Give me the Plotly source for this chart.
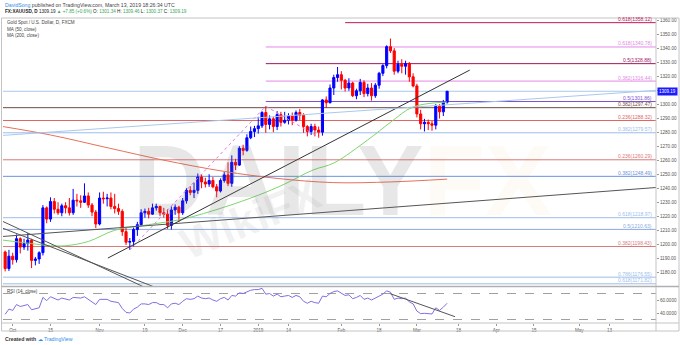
import plotly.graph_objects as go
import pandas as pd

W, H = 680, 345
FONT = "Liberation Sans, Arial, sans-serif"

# ---------------- data ----------------
dates = [d.strftime("%Y-%m-%d") for d in pd.bdate_range("2018-09-27", "2019-03-13")
         if d.strftime("%Y-%m-%d") not in ("2018-12-25", "2019-01-01")]
bar_index = list(range(-2, len(dates) - 2))   # 0 = 2018-10-01

opens = [
    1194.5, 1182.7,
    1191.5, 1189.0, 1204.0, 1198.0, 1200.5, 1203.0, 1188.5, 1189.5, 1194.0, 1226.0,
    1218.0, 1230.5, 1225.0, 1222.5, 1227.5, 1226.0, 1222.5, 1231.5, 1231.0, 1230.0,
    1234.5, 1228.0, 1223.0,
    1214.5, 1233.0, 1232.5, 1233.0, 1227.0, 1225.5, 1223.5, 1209.0, 1201.5, 1202.0,
    1210.5, 1214.0, 1222.5, 1223.5, 1221.5, 1226.0, 1227.0, 1222.5, 1221.5, 1213.5,
    1224.5, 1226.5,
    1222.5, 1231.0, 1238.5, 1237.0, 1238.5, 1248.0, 1244.5, 1243.0, 1245.5, 1241.0,
    1238.0, 1245.5, 1249.5, 1243.5, 1258.5, 1256.5, 1268.5, 1267.0, 1276.0, 1280.5,
    1282.5, 1284.5, 1294.0, 1285.5, 1289.5, 1284.0, 1292.5, 1287.0, 1288.5, 1291.5,
    1288.5, 1294.0, 1292.0, 1284.0, 1280.5, 1284.0, 1281.5, 1280.0, 1303.0, 1301.0,
    1311.5, 1319.0,
    1321.0, 1317.0, 1311.5, 1315.0, 1306.0, 1309.5, 1315.5, 1307.5, 1311.5, 1306.0,
    1313.5, 1322.0, 1327.5, 1341.0, 1338.0, 1323.5, 1328.5, 1327.0, 1329.0, 1319.5,
    1313.0, 1293.0, 1286.0, 1287.0, 1286.0, 1285.0, 1298.5, 1294.5, 1301.34,
]
highs = [
    1195.5, 1196.0,
    1194.0, 1207.0, 1205.0, 1204.0, 1208.0, 1204.0, 1191.0, 1195.0, 1228.0, 1227.0,
    1233.5, 1233.0, 1230.0, 1229.0, 1230.0, 1233.0, 1239.5, 1236.0, 1235.0, 1243.5,
    1237.0, 1229.5, 1224.5,
    1237.0, 1237.5, 1236.0, 1237.0, 1236.0, 1229.0, 1225.0, 1212.0, 1204.5, 1212.0,
    1216.0, 1225.0, 1225.5, 1226.0, 1229.0, 1229.0, 1227.5, 1226.0, 1225.0, 1227.0,
    1228.5, 1227.5,
    1233.0, 1240.0, 1241.5, 1244.0, 1250.5, 1250.0, 1247.5, 1250.0, 1248.0, 1243.0,
    1247.0, 1251.5, 1258.5, 1263.5, 1261.0, 1270.0, 1271.0, 1278.5, 1284.0, 1284.5,
    1291.0, 1295.0, 1298.5, 1292.0, 1291.0, 1295.0, 1294.5, 1294.5, 1293.5, 1294.0,
    1295.5, 1296.5, 1293.5, 1285.0, 1286.0, 1286.0, 1284.0, 1303.5, 1305.5, 1314.0,
    1321.0, 1326.5,
    1323.5, 1318.0, 1318.5, 1316.0, 1311.0, 1318.0, 1317.0, 1314.5, 1315.0, 1315.0,
    1323.0, 1328.5, 1342.0, 1346.8, 1340.0, 1331.0, 1332.0, 1331.0, 1330.0, 1322.0,
    1314.5, 1296.0, 1289.5, 1289.0, 1288.0, 1300.0, 1300.0, 1303.0, 1309.46,
]
lows = [
    1180.7, 1181.0,
    1185.5, 1187.0, 1193.5, 1196.0, 1195.5, 1183.0, 1185.0, 1186.0, 1192.0, 1215.0,
    1216.0, 1222.0, 1221.0, 1220.0, 1222.0, 1220.5, 1221.0, 1227.0, 1226.0, 1229.5,
    1226.0, 1220.0, 1211.5,
    1213.5, 1229.0, 1227.0, 1225.0, 1222.0, 1221.0, 1206.0, 1199.5, 1196.0, 1198.5,
    1206.0, 1213.0, 1219.0, 1218.5, 1221.0, 1224.0, 1220.0, 1219.0, 1211.0, 1210.5,
    1221.0, 1216.0,
    1221.0, 1229.0, 1235.0, 1233.0, 1236.0, 1240.0, 1240.5, 1241.0, 1240.0, 1233.5,
    1237.0, 1244.0, 1241.5, 1241.0, 1253.0, 1256.0, 1263.5, 1266.0, 1275.0, 1276.5,
    1279.0, 1283.0, 1279.5, 1282.0, 1280.0, 1281.5, 1284.0, 1286.0, 1285.5, 1285.0,
    1287.5, 1288.5, 1279.5, 1277.0, 1278.0, 1277.0, 1276.0, 1277.5, 1297.5, 1300.5,
    1306.5, 1316.0,
    1310.5, 1309.0, 1309.5, 1305.0, 1303.5, 1306.5, 1305.0, 1305.5, 1302.5, 1304.5,
    1311.0, 1320.0, 1325.5, 1336.5, 1321.0, 1322.0, 1322.0, 1321.0, 1316.0, 1312.0,
    1290.5, 1282.0, 1280.5, 1281.5, 1281.0, 1282.0, 1289.7, 1291.5, 1300.37,
]
closes = [
    1182.7, 1191.5,
    1189.0, 1204.0, 1198.0, 1200.5, 1203.0, 1188.5, 1189.5, 1194.0, 1226.0, 1218.0,
    1230.5, 1225.0, 1222.5, 1227.5, 1226.0, 1222.5, 1231.5, 1231.0, 1230.0, 1234.5,
    1228.0, 1223.0, 1214.5,
    1233.0, 1232.5, 1233.0, 1227.0, 1225.5, 1223.5, 1209.0, 1201.5, 1202.0, 1210.5,
    1214.0, 1222.5, 1223.5, 1221.5, 1226.0, 1227.0, 1222.5, 1221.5, 1213.5, 1224.5,
    1226.5, 1222.5,
    1231.0, 1238.5, 1237.0, 1238.5, 1248.0, 1244.5, 1243.0, 1245.5, 1241.0, 1238.0,
    1245.5, 1249.5, 1243.5, 1258.5, 1256.5, 1268.5, 1267.0, 1276.0, 1280.5, 1282.5,
    1284.5, 1294.0, 1285.5, 1289.5, 1284.0, 1292.5, 1287.0, 1288.5, 1291.5, 1288.5,
    1294.0, 1292.0, 1284.0, 1280.5, 1284.0, 1281.5, 1280.0, 1303.0, 1301.0, 1311.5,
    1319.0, 1321.0,
    1317.0, 1311.5, 1315.0, 1306.0, 1309.5, 1315.5, 1307.5, 1311.5, 1306.0, 1313.5,
    1322.0, 1327.5, 1341.0, 1338.0, 1323.5, 1328.5, 1327.0, 1329.0, 1319.5, 1313.0,
    1293.0, 1286.0, 1287.0, 1286.0, 1285.0, 1298.5, 1294.5, 1301.34, 1309.19,
]
rsi = [
    38, 46,
    44, 53, 50, 51, 53, 45, 46, 48, 64, 59, 65, 62, 60, 63, 62, 60, 64, 64, 63, 65, 61, 58, 53,
    61, 61, 61, 58, 57, 56, 47, 41, 40, 46, 49, 54, 54, 53, 56, 56, 53, 53, 48, 54, 55, 53,
    58, 62, 61, 62, 66, 63, 62, 63, 60, 58, 62, 64, 60, 67, 66, 71, 70, 73, 75, 76,
    76, 78, 69, 70, 66, 69, 65, 66, 67, 64, 67, 65, 58, 55, 58, 56, 55, 66, 65, 70, 73, 74,
    71, 67, 68, 62, 64, 67, 61, 63, 60, 63, 67, 69, 74, 72, 61, 63, 62, 63, 57, 54,
    43, 39, 39.5, 39, 38.5, 48, 44, 49, 55,
]

# moving averages (bar index, price)
ma50_idx = [-2.6, 5, 10, 14, 20, 27, 36, 45, 56, 65, 72, 79.5, 85, 94, 100, 106, 115]
ma50_val = [1203, 1200.5, 1199, 1199, 1202, 1210, 1214, 1218, 1226.5, 1235, 1243, 1253,
            1258, 1274.5, 1287, 1298, 1301.5]
ma200_idx = [-2.6, 10, 25.7, 40, 56, 70, 85, 100, 115]
ma200_val = [1284, 1278, 1268.5, 1260, 1252, 1247, 1244, 1244.5, 1246.5]

# fibonacci levels (ratio, price, colour, start bar)
fib_ratio = ["0.618", "0.618", "0.5", "0.382", "0.5", "0.382", "0.236", "0.382",
             "0.236", "0.382", "0.618", "0.5", "0.382", "0.786", "0.618"]
fib_price = [1358.12, 1340.78, 1328.88, 1316.44, 1301.86, 1297.47, 1288.32, 1279.57,
             1260.29, 1248.49, 1218.97, 1210.63, 1198.43, 1176.55, 1171.82]
fib_color = ["#c2185b", "#e389e6", "#a0155f", "#e389e6", "#7b52c9", "#6d4c41", "#e06666",
             "#9dbdea", "#d97a7a", "#6d93dc", "#9dbdea", "#88a9e3", "#d97a7a", "#9dbdea",
             "#9dbdea"]
fib_start = [88, 67, 67, 67, 67, -3, -3, -3, -3, -3, -3, -3, -3, -3, -3]

# trend lines (bar index, value)
trend_lines = [
    ([-2.57, 170.3], [1205.6, 1240.5], "#555555"),
    ([25.2, 121.0], [1190.2, 1324.3], "#333333"),
    ([-3.4, 36.0], [1217.3, 1168.0], "#555555"),
    ([-3.4, 39.0], [1212.3, 1168.0], "#555555"),
    ([-2.57, 170.3], [1277.7, 1309.8], "#a9c8ee"),
]
fib_path_idx = [31, 67, 81]
fib_path_val = [1196.0, 1298.5, 1276.5]
rsi_trend_idx = [99.9, 117.1]
rsi_trend_val = [69.8, 34.3]

tick_idx = [0, 10, 23, 35, 45, 55, 65, 73, 87, 97, 107, 118, 128, 138, 150, 158]
tick_txt = ["Oct", "15", "Nov", "19", "Dec", "17", "2019", "14", "Feb", "18", "Mar", "18",
            "Apr", "15", "May", "13"]
price_ticks = list(range(1180, 1361, 10))
last_price = 1309.19

# ---------------- layout helpers ----------------
def fx(px):
    return px / W

def fy(py):
    return 1 - py / H

X0, X1 = 3, 656
P_TOP, P_BOT = 18, 286
R_TOP, R_BOT = 287, 323
XR = [-2.57, 170.3]
YR = [1200 + (244.3 - P_BOT) / 1.4017, 1200 + (244.3 - P_TOP) / 1.4017]
RR = [60 - (R_BOT - 300) / 0.65, 60 + (300 - R_TOP) / 0.65]

fig = go.Figure()

fig.add_trace(go.Candlestick(
    x=bar_index, open=opens, high=highs, low=lows, close=closes, text=dates,
    increasing=dict(line=dict(color="#0000ff", width=1), fillcolor="#0000ff"),
    decreasing=dict(line=dict(color="#ff0000", width=1), fillcolor="#ff0000"),
    whiskerwidth=0, xaxis="x", yaxis="y", showlegend=False))

fig.add_trace(go.Scatter(x=ma50_idx, y=ma50_val, mode="lines",
                         line=dict(color="#7ed56f", width=1, shape="spline"),
                         xaxis="x", yaxis="y", showlegend=False))
fig.add_trace(go.Scatter(x=ma200_idx, y=ma200_val, mode="lines",
                         line=dict(color="#e8705a", width=1, shape="spline"),
                         xaxis="x", yaxis="y", showlegend=False))
fig.add_trace(go.Scatter(x=fib_path_idx, y=fib_path_val, mode="lines",
                         line=dict(color="#e07be0", width=1, dash="dot"),
                         xaxis="x", yaxis="y", showlegend=False))
fig.add_trace(go.Scatter(x=bar_index, y=rsi, mode="lines",
                         line=dict(color="#7f6fe3", width=1),
                         xaxis="x2", yaxis="y2", showlegend=False))
fig.add_trace(go.Scatter(x=rsi_trend_idx, y=rsi_trend_val, mode="lines",
                         line=dict(color="#555555", width=1),
                         xaxis="x2", yaxis="y2", showlegend=False))

shapes = []
# fib lines
for p, c, s in zip(fib_price, fib_color, fib_start):
    shapes.append(dict(type="line", xref="x", yref="y", x0=s, x1=XR[1], y0=p, y1=p,
                       line=dict(color=c, width=1), layer="below"))
# current price line
shapes.append(dict(type="line", xref="x", yref="y", x0=XR[0], x1=XR[1], y0=last_price,
                   y1=last_price, line=dict(color="#a9c8ee", width=1), layer="below"))
for xs, ys, c in trend_lines:
    shapes.append(dict(type="line", xref="x", yref="y", x0=xs[0], x1=xs[1], y0=ys[0], y1=ys[1],
                       line=dict(color=c, width=1)))
# rsi bands
for lv in (70, 30):
    shapes.append(dict(type="line", xref="x2", yref="y2", x0=XR[0], x1=XR[1], y0=lv, y1=lv,
                       line=dict(color="#a0a0a0", width=1, dash="dash"), layer="below"))
# frame
GRAY = "#c4c4c4"
shapes.append(dict(type="rect", xref="paper", yref="paper", x0=fx(1.5), x1=fx(679), y0=fy(331),
                   y1=fy(P_TOP), line=dict(color=GRAY, width=1)))
shapes.append(dict(type="line", xref="paper", yref="paper", x0=fx(X1), x1=fx(X1), y0=fy(331),
                   y1=fy(P_TOP), line=dict(color=GRAY, width=1)))
shapes.append(dict(type="line", xref="paper", yref="paper", x0=fx(1.5), x1=fx(679),
                   y0=fy(286.5), y1=fy(286.5), line=dict(color="#b0b0b0", width=1.5)))
shapes.append(dict(type="line", xref="paper", yref="paper", x0=fx(1.5), x1=fx(679),
                   y0=fy(R_BOT), y1=fy(R_BOT), line=dict(color=GRAY, width=1)))

ann = []
# watermark
ann.append(dict(xref="paper", yref="paper", x=fx(342), y=fy(180), showarrow=False,
                text="<b>DAILY</b><span style='color:rgba(240,140,40,0.26)'><b>FX</b></span>",
                font=dict(family=FONT, size=100, color="rgba(110,110,110,0.17)"),
                xanchor="center", yanchor="middle"))
ann.append(dict(xref="paper", yref="paper", x=fx(250), y=fy(218), showarrow=False,
                text="<b>WikiFX</b>", textangle=-22,
                font=dict(family=FONT, size=44, color="rgba(150,150,150,0.13)"),
                xanchor="center", yanchor="middle"))

for r, p, c in zip(fib_ratio, fib_price, fib_color):
    ann.append(dict(xref="paper", yref="y", x=fx(654), y=p, showarrow=False,
                    text=f"{r}({p:.2f})", font=dict(family=FONT, size=5, color=c),
                    xanchor="right", yanchor="bottom", yshift=-1.5))

ann.append(dict(xref="paper", yref="y", x=fx(657), y=last_price, showarrow=False,
                text=f"{last_price:.2f}", bgcolor="#1a1aff", borderpad=1,
                font=dict(family=FONT, size=4.5, color="white"), xanchor="left",
                yanchor="middle"))

small = dict(family=FONT, size=4.6, color="#444")
ann.append(dict(xref="paper", yref="paper", x=fx(3), y=fy(5), showarrow=False,
                xanchor="left", yanchor="middle",
                text="<span style='color:#2f8ee8'>DavidSong</span> published on TradingView.com, March 13, 2019 18:26:34 UTC",
                font=dict(family=FONT, size=5.2, color="#444")))
ann.append(dict(xref="paper", yref="paper", x=fx(3), y=fy(11.5), showarrow=False,
                xanchor="left", yanchor="middle",
                text="<b>FX:XAUUSD, D</b> 1309.19 <span style='color:#3aa655'>▲ +7.85 (+0.6%)</span> "
                     "O: <span style='color:#3aa655'>1301.34</span> H: <span style='color:#3aa655'>1309.46</span> "
                     "L: <span style='color:#3aa655'>1300.37</span> C: <span style='color:#3aa655'>1309.19</span>",
                font=dict(family=FONT, size=4.6, color="#222")))
for t, yy in (("Gold Spot / U.S. Dollar, D, FXCM", 23), ("MA (50, close)", 29),
              ("MA (200, close)", 35)):
    ann.append(dict(xref="paper", yref="paper", x=fx(5), y=fy(yy), showarrow=False,
                    xanchor="left", yanchor="middle", text=t, font=small))
ann.append(dict(xref="paper", yref="paper", x=fx(5), y=fy(291), showarrow=False,
                xanchor="left", yanchor="middle", text="RSI (14, close)", font=small))
ann.append(dict(xref="paper", yref="paper", x=fx(3), y=fy(338.5), showarrow=False,
                xanchor="left", yanchor="middle",
                text="<b>Created with</b> <span style='color:#2f8ee8'>☁ TradingView</span>",
                font=dict(family=FONT, size=5.2, color="#333")))

axis_font = dict(family=FONT, size=4.6, color="#555")
fig.update_layout(
    width=W, height=H, margin=dict(l=0, r=0, t=0, b=0),
    paper_bgcolor="white", plot_bgcolor="white", boxgap=0.2,
    xaxis=dict(domain=[fx(X0), fx(X1)], range=XR, anchor="y", showticklabels=False,
               showgrid=False, zeroline=False, rangeslider=dict(visible=False)),
    yaxis=dict(domain=[fy(P_BOT), fy(P_TOP)], range=YR, side="right", anchor="x",
               tickvals=price_ticks, ticktext=[f"{v:.2f}" for v in price_ticks],
               tickfont=axis_font, ticks="outside", ticklen=2, tickcolor="#999",
               showgrid=False, zeroline=False),
    xaxis2=dict(domain=[fx(X0), fx(X1)], range=XR, anchor="y2", tickvals=tick_idx,
                ticktext=tick_txt, tickfont=axis_font, ticks="outside", ticklen=2,
                tickcolor="#999", showgrid=False, zeroline=False,
                rangeslider=dict(visible=False)),
    yaxis2=dict(domain=[fy(R_BOT), fy(R_TOP)], range=RR, side="right", anchor="x2",
                tickvals=[40, 60], ticktext=["40.0000", "60.0000"], tickfont=axis_font,
                ticks="outside", ticklen=2, tickcolor="#999", showgrid=False, zeroline=False),
    shapes=shapes, annotations=ann, showlegend=False,
)

fig.write_html("out.html")
